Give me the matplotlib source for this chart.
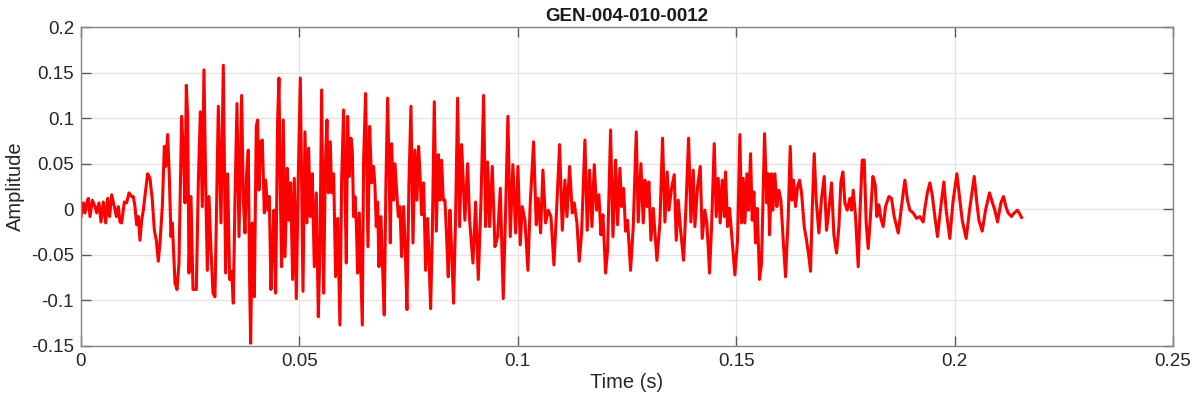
import matplotlib
matplotlib.use("Agg")
import matplotlib.pyplot as plt
import numpy as np

title = "GEN-004-010-0012"
x_label = "Time (s)"
y_label = "Amplitude"
x_ticks = [0, 0.05, 0.1, 0.15, 0.2, 0.25]
x_tick_labels = ["0", "0.05", "0.1", "0.15", "0.2", "0.25"]
y_ticks = [-0.15, -0.1, -0.05, 0, 0.05, 0.1, 0.15, 0.2]
y_tick_labels = ["-0.15", "-0.1", "-0.05", "0", "0.05", "0.1", "0.15", "0.2"]

# time in milliseconds, amplitude
time_ms = [
    0.0, 0.54, 0.92, 1.30, 1.68, 2.06, 2.60, 3.21, 3.59, 4.12, 4.58, 5.11, 5.65, 6.10, 6.56, 7.02,
    7.63, 8.09, 8.55, 8.93, 9.31, 9.92, 10.45, 10.99, 11.60, 11.98, 12.36, 12.74, 13.12, 13.50,
    13.89, 14.27, 14.80, 15.26, 15.79, 16.33, 16.79, 17.24, 17.70, 18.08, 18.62, 19.08, 19.38,
    19.84, 20.22, 20.60, 20.91, 21.52, 21.98, 22.43, 23.04, 23.50, 23.80, 24.11, 24.42, 24.72,
    25.18, 25.64, 26.10, 26.40, 26.86, 27.32, 27.77, 28.15, 28.54, 28.92, 29.30, 29.76, 30.22,
    30.67, 31.44, 32.05, 32.58, 33.11, 33.57, 34.03, 34.49, 34.87, 35.25, 35.71, 36.17, 36.78,
    37.16, 37.54, 37.92, 38.30, 38.61, 38.84, 39.22, 39.68, 40.13, 40.44, 40.74, 41.13, 41.51,
    41.97, 42.27, 42.73, 43.11, 43.49, 43.80, 44.18, 44.56, 45.02, 45.32, 45.63, 45.93, 46.31,
    46.70, 47.23, 47.61, 47.99, 48.45, 48.83, 49.29, 49.75, 50.21, 50.51, 50.82, 51.27, 51.73,
    52.11, 52.50, 52.95, 53.41, 53.87, 54.33, 54.71, 55.09, 55.55, 55.93, 56.31, 56.62, 57.07,
    57.38, 57.84, 58.29, 58.75, 59.28, 59.67, 60.12, 60.43, 60.74, 61.04, 61.42, 61.80, 62.11,
    62.41, 62.72, 63.03, 63.33, 63.71, 64.09, 64.40, 64.70, 65.16, 65.47, 65.70, 66.08, 66.53,
    66.99, 67.30, 67.60, 67.91, 68.21, 68.67, 68.98, 69.43, 69.81, 70.20, 70.58, 70.81, 71.11,
    71.57, 71.88, 72.26, 72.64, 73.02, 73.40, 73.86, 74.24, 74.62, 75.08, 75.54, 76.00, 76.45,
    76.91, 77.29, 77.67, 77.98, 78.44, 78.90, 79.35, 79.66, 80.04, 80.42, 80.88, 81.34, 81.79,
    82.17, 82.56, 82.94, 83.32, 83.70, 84.08, 84.46, 84.85, 85.30, 85.76, 86.22, 86.68, 87.14,
    87.89, 88.51, 88.97, 89.73, 90.34, 90.95, 91.56, 92.17, 92.63, 93.09, 93.54, 94.16, 94.77,
    95.38, 95.99, 96.67, 97.21, 97.74, 98.27, 98.88, 99.50, 100.03, 100.56, 101.02, 101.63,
    102.32, 102.85, 103.62, 104.22, 104.68, 105.22, 105.75, 106.36, 106.97, 107.58, 108.27,
    108.96, 109.57, 110.18, 110.79, 111.25, 111.86, 112.47, 112.93, 113.54, 114.07, 114.60,
    115.37, 115.90, 116.43, 116.97, 117.50, 118.03, 118.57, 119.03, 119.49, 120.10, 120.55,
    121.24, 121.78, 122.39, 122.84, 123.38, 123.76, 124.22, 124.67, 125.13, 125.82, 126.43,
    127.12, 127.57, 128.19, 128.72, 129.10, 129.56, 130.01, 130.47, 131.01, 131.85, 132.53,
    133.14, 133.68, 134.21, 134.59, 135.20, 135.81, 136.27, 136.73, 137.19, 137.95, 138.56,
    139.10, 139.63, 140.16, 140.54, 141.16, 141.77, 142.22, 142.83, 143.29, 143.90, 144.36,
    144.97, 145.43, 145.89, 146.34, 146.80, 147.26, 147.56, 148.02, 148.48, 148.94, 149.70,
    150.31, 150.84, 151.23, 151.61, 151.99, 152.45, 152.83, 153.29, 153.67, 154.05, 154.43,
    154.81, 155.35, 155.80, 156.49, 157.02, 157.33, 157.64, 158.09, 158.40, 158.86, 159.31,
    159.77, 160.23, 160.76, 161.30, 161.91, 162.37, 162.75, 163.13, 163.59, 164.05, 164.51,
    164.96, 165.57, 166.11, 166.64, 167.02, 167.40, 167.86, 168.32, 168.93, 169.54, 170.15,
    170.68, 171.06, 171.83, 172.36, 172.97, 173.51, 173.97, 174.42, 174.88, 175.41, 176.02,
    176.41, 176.79, 177.32, 177.93, 178.39, 178.85, 179.31, 179.76, 180.22, 180.68, 181.29,
    181.83, 182.20, 182.66, 183.12, 183.65, 184.19, 184.95, 185.56, 186.17, 187.09, 187.85,
    188.61, 189.22, 189.76, 190.52, 191.28, 192.05, 192.81, 193.19, 193.80, 194.34, 194.87,
    195.48, 196.09, 196.85, 197.54, 198.07, 198.91, 199.60, 200.52, 201.13, 201.74, 202.65,
    203.42, 204.49, 205.10, 205.56, 206.32, 207.08, 208.00, 208.61, 209.22, 209.83, 210.59,
    211.20, 211.74, 212.27, 213.03, 213.64, 214.41, 215.01, 215.32,
]
amplitude = [
    -0.008, 0.007, -0.004, 0.007, 0.012, -0.008, 0.010, 0.003, -0.004, 0.007, -0.014, 0.008, -0.015, 0.012, -0.008, 0.016,
    0.003, -0.008, 0.003, -0.014, -0.015, 0.008, 0.007, 0.018, 0.014, 0.014, 0.003, -0.017, -0.008, -0.034,
    -0.012, -0.001, 0.021, 0.039, 0.034, 0.010, -0.023, -0.034, -0.057, -0.037, 0.003, 0.069, 0.047,
    0.082, 0.036, -0.030, -0.015, -0.081, -0.088, -0.059, 0.102, 0.054, 0.007, 0.136, 0.102, -0.070,
    0.014, -0.088, -0.088, -0.088, 0.029, 0.107, 0.003, 0.153, 0.029, -0.067, 0.014, -0.045, -0.092,
    -0.096, 0.113, -0.015, 0.158, -0.070, 0.039, -0.077, -0.068, -0.103, 0.010, 0.116, -0.030, 0.125,
    0.010, -0.026, 0.039, 0.065, -0.081, -0.147, -0.015, -0.096, 0.091, 0.098, 0.021, 0.074, 0.076,
    -0.004, 0.032, -0.001, 0.014, -0.088, -0.045, -0.001, -0.092, 0.098, 0.144, 0.021, -0.063, 0.098,
    -0.052, 0.045, -0.012, 0.029, -0.077, 0.034, -0.098, 0.036, 0.144, 0.029, -0.090, 0.085, -0.015,
    0.067, -0.008, 0.039, -0.063, 0.018, -0.118, -0.045, 0.131, -0.092, 0.047, 0.098, 0.018, 0.074,
    0.018, 0.039, -0.074, -0.010, -0.127, 0.032, 0.109, 0.021, -0.059, 0.102, 0.036, 0.078, 0.065,
    -0.008, 0.014, -0.015, -0.070, -0.004, -0.074, -0.127, 0.054, 0.127, 0.029, -0.041, 0.091, 0.029,
    0.047, 0.025, -0.019, 0.008, -0.063, -0.008, -0.056, -0.116, 0.029, 0.122, 0.029, -0.037, 0.072,
    0.010, 0.050, 0.021, -0.008, 0.003, -0.052, 0.003, -0.045, -0.110, 0.029, 0.113, -0.037, 0.065,
    0.010, 0.069, 0.032, -0.006, 0.029, -0.067, -0.010, -0.052, -0.109, -0.030, 0.118, -0.024, 0.060,
    0.010, 0.054, 0.010, 0.010, -0.030, -0.074, -0.001, -0.045, -0.103, -0.008, 0.122, -0.019, 0.071,
    -0.012, 0.050, -0.012, -0.059, 0.008, -0.077, 0.007, 0.125, -0.019, 0.052, -0.019, 0.047, -0.041,
    -0.030, 0.023, -0.098, -0.001, 0.102, -0.030, 0.049, -0.026, 0.047, -0.039, 0.003, -0.012,
    -0.067, 0.007, 0.074, -0.017, 0.012, -0.026, 0.043, -0.015, -0.001, -0.008, -0.061,
    0.007, 0.071, -0.023, 0.032, -0.008, 0.047, -0.004, 0.007, -0.015, -0.057, -0.026,
    0.076, -0.023, 0.043, -0.019, 0.049, -0.001, 0.016, -0.028, -0.006, -0.070, -0.045,
    0.087, -0.030, 0.054, -0.017, 0.045, 0.003, 0.023, -0.024, -0.012, -0.067, -0.019,
    0.085, -0.014, 0.050, -0.015, 0.032, 0.003, 0.030, -0.034, 0.001, -0.056, -0.015,
    0.078, -0.014, 0.041, -0.001, 0.023, 0.038, -0.034, 0.010, -0.019, -0.056, 0.010,
    0.078, -0.014, 0.043, -0.019, 0.025, 0.047, -0.032, -0.001, -0.015, -0.070, -0.019,
    0.072, -0.008, 0.034, -0.015, 0.032, -0.008, 0.041, -0.019, 0.001, -0.026, -0.072,
    -0.034, 0.082, -0.015, 0.034, -0.015, 0.039, -0.001, 0.061, -0.012, 0.019, -0.037,
    0.001, -0.077, -0.059, 0.083, 0.007, 0.039, -0.028, 0.039, -0.001, 0.039, 0.003,
    0.021, 0.010, -0.034, -0.074, -0.008, 0.069, 0.010, 0.032, 0.003, 0.025, 0.032,
    0.018, -0.019, -0.034, -0.052, -0.068, -0.001, 0.061, 0.010, -0.026, 0.012, 0.036,
    -0.023, -0.008, 0.029, -0.028, -0.048, -0.019, 0.030, 0.041, 0.007, -0.001, 0.012,
    -0.001, 0.021, -0.008, -0.063, 0.003, 0.054, 0.054, -0.015, -0.043, -0.012, 0.036,
    0.027, -0.008, 0.005, -0.010, -0.019, 0.003, 0.014, 0.012, -0.008, -0.026, 0.003,
    0.032, 0.010, -0.001, -0.004, -0.010, -0.008, -0.014, 0.001, 0.019, 0.029, 0.016,
    -0.008, -0.030, 0.003, 0.030, -0.001, -0.032, 0.007, 0.039, 0.014, -0.012, -0.032,
    -0.001, 0.036, 0.007, -0.012, -0.024, -0.001, 0.018, 0.008, -0.001, -0.014, 0.007,
    0.014, 0.003, -0.004, -0.008, -0.004, -0.001, -0.006, -0.009,
]
assert len(time_ms) == len(amplitude), (len(time_ms), len(amplitude))

plt.rcParams["font.family"] = ["Liberation Sans", "DejaVu Sans"]

fig = plt.figure(figsize=(11.93, 4.04), dpi=100)
ax = fig.add_axes([81 / 1193, 1 - 346 / 404, (1173 - 81) / 1193, (346 - 27) / 404])

t = np.array(time_ms) / 1000.0
a = np.array(amplitude)
ax.plot(t, a, color="#ff0000", linewidth=2.2, solid_joinstyle="round")

ax.set_xlim(0, 0.25)
ax.set_ylim(-0.15, 0.2)
ax.set_xticks(x_ticks)
ax.set_xticklabels(x_tick_labels)
ax.set_yticks(y_ticks)
ax.set_yticklabels(y_tick_labels)

ax.grid(True, color="#e3e3e3", linewidth=0.9)
ax.set_axisbelow(True)
for s in ax.spines.values():
    s.set_color("#858585")
    s.set_linewidth(1.0)
ax.tick_params(direction="in", length=7.5, width=1.0, color="#5a5a5a",
               labelsize=13.5, labelcolor="#262626", top=True, right=True, pad=5)

ax.set_title(title, fontsize=13.5, fontweight="bold", color="#1a1a1a", pad=4)
ax.set_xlabel(x_label, fontsize=14.5, color="#262626", labelpad=2)
ax.set_ylabel(y_label, fontsize=14.5, color="#262626", labelpad=4)

fig.savefig("out.png", dpi=100)
